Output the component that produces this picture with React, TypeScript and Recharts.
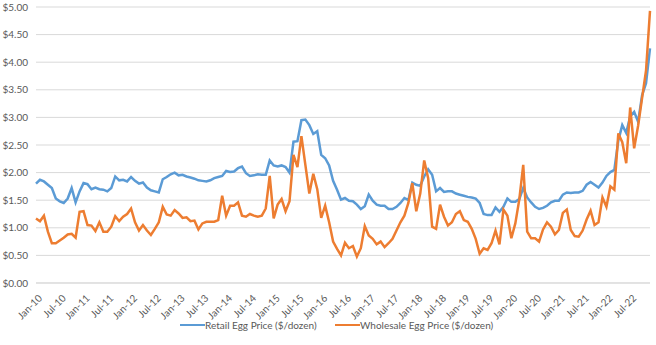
import { LineChart, Line, XAxis, YAxis, CartesianGrid, Legend } from 'recharts'

const monthNames = ['Jan', 'Feb', 'Mar', 'Apr', 'May', 'Jun', 'Jul', 'Aug', 'Sep', 'Oct', 'Nov', 'Dec']
const years = ['10', '11', '12', '13', '14', '15', '16', '17', '18', '19', '20', '21', '22']

// $/dozen, one row per year
const retail = [
  1.80, 1.87, 1.84, 1.78, 1.72, 1.53, 1.48, 1.45, 1.53, 1.72, 1.46, 1.66,
  1.81, 1.79, 1.70, 1.73, 1.70, 1.69, 1.66, 1.72, 1.93, 1.86, 1.87, 1.84,
  1.92, 1.85, 1.80, 1.82, 1.73, 1.68, 1.66, 1.64, 1.88, 1.92, 1.97, 2.00,
  1.95, 1.96, 1.93, 1.91, 1.89, 1.86, 1.85, 1.84, 1.86, 1.90, 1.92, 1.94,
  2.03, 2.01, 2.02, 2.08, 2.11, 1.99, 1.94, 1.95, 1.97, 1.96, 1.96, 2.22,
  2.13, 2.11, 2.13, 2.10, 2.00, 2.56, 2.57, 2.95, 2.96, 2.86, 2.70, 2.75,
  2.32, 2.26, 2.13, 1.85, 1.69, 1.51, 1.54, 1.49, 1.48, 1.42, 1.34, 1.39,
  1.60, 1.49, 1.42, 1.40, 1.40, 1.34, 1.34, 1.38, 1.45, 1.54, 1.50, 1.82,
  1.78, 1.76, 1.93, 2.06, 1.96, 1.66, 1.72, 1.65, 1.66, 1.66, 1.62, 1.60,
  1.58, 1.56, 1.55, 1.53, 1.45, 1.25, 1.23, 1.23, 1.37, 1.29, 1.38, 1.53,
  1.47, 1.47, 1.52, 1.72, 1.55, 1.46, 1.38, 1.34, 1.36, 1.40, 1.46, 1.49,
  1.49, 1.60, 1.64, 1.63, 1.64, 1.64, 1.67, 1.78, 1.83, 1.78, 1.73, 1.82,
  1.94, 2.01, 2.05, 2.58, 2.86, 2.72, 3.02, 3.10, 2.92, 3.40, 3.62, 4.25,
]

const wholesale = [
  1.17, 1.12, 1.22, 0.93, 0.72, 0.72, 0.77, 0.82, 0.88, 0.89, 0.82, 1.29,
  1.30, 1.05, 1.04, 0.94, 1.10, 0.93, 0.93, 1.02, 1.21, 1.12, 1.20, 1.25,
  1.35, 1.10, 0.95, 1.05, 0.95, 0.87, 0.98, 1.10, 1.38, 1.24, 1.22, 1.32,
  1.26, 1.18, 1.19, 1.12, 1.13, 0.97, 1.08, 1.11, 1.11, 1.11, 1.14, 1.58,
  1.22, 1.40, 1.40, 1.46, 1.22, 1.20, 1.25, 1.22, 1.20, 1.22, 1.35, 1.94,
  1.17, 1.42, 1.52, 1.30, 1.48, 2.32, 2.10, 2.66, 2.14, 1.62, 1.98, 1.70,
  1.18, 1.40, 1.10, 0.75, 0.62, 0.50, 0.73, 0.63, 0.67, 0.48, 0.63, 1.03,
  0.86, 0.80, 0.70, 0.75, 0.65, 0.72, 0.80, 0.95, 1.10, 1.22, 1.45, 1.81,
  1.30, 1.62, 2.22, 1.90, 1.02, 0.98, 1.42, 1.20, 1.04, 1.10, 1.25, 1.30,
  1.14, 1.11, 0.98, 0.80, 0.53, 0.63, 0.60, 0.72, 0.95, 0.70, 1.33, 1.22,
  0.81, 1.08, 1.51, 2.14, 0.93, 0.81, 0.81, 0.75, 0.97, 1.10, 1.02, 0.88,
  0.96, 1.27, 1.33, 0.96, 0.85, 0.84, 0.95, 1.15, 1.31, 1.05, 1.10, 1.55,
  1.38, 1.75, 1.69, 2.71, 2.55, 2.17, 3.18, 2.44, 2.85, 3.35, 3.85, 4.93,
]

const yTicks = [0, 0.5, 1, 1.5, 2, 2.5, 3, 3.5, 4, 4.5, 5]

const months = years.flatMap(y => monthNames.map(m => `${m}-${y}`))
const data = months.map((month, i) => ({ month, retail: retail[i], wholesale: wholesale[i] }))

const FONT = 'Lato, "Open Sans", sans-serif'
const TEXT = '#595959'
const BLUE = '#5B9BD5'
const ORANGE = '#ED7D31'

function MonthTick({ x, y, payload }: any) {
  return (
    <g transform={`translate(${x + 4},${y + 5})`}>
      <text x={0} y={0} dy={4} textAnchor="end" transform="rotate(-45)"
        fill={TEXT} fontSize={10} fontFamily={FONT}>{payload.value}</text>
    </g>
  )
}

function LegendBox() {
  const items = [
    { label: 'Retail Egg Price ($/dozen)', color: BLUE, left: 180 },
    { label: 'Wholesale Egg Price ($/dozen)', color: ORANGE, left: 335 },
  ]
  return (
    <div style={{ position: 'relative', width: 656, height: 20, fontFamily: FONT, fontSize: 10, color: TEXT }}>
      {items.map(it => (
        <div key={it.label} style={{ position: 'absolute', left: it.left, top: 0, height: 20, display: 'flex', alignItems: 'center', whiteSpace: 'nowrap' }}>
          <span style={{ display: 'inline-block', width: 25, height: 2.5, background: it.color }} />
          <span>{it.label}</span>
        </div>
      ))}
    </div>
  )
}

export default function App() {
  return (
    <div style={{ position: 'absolute', left: 0, top: 0, width: 656, height: 345, background: '#fff' }}>
      <LineChart width={656} height={345} data={data} margin={{ top: 7, right: 6, left: 0, bottom: 10 }}>
        <CartesianGrid vertical={false} stroke="#d9d9d9" />
        <XAxis dataKey="month" interval={5} tickLine={false} axisLine={{ stroke: '#d9d9d9' }}
          height={32} tick={<MonthTick />} />
        <YAxis domain={[0, 5]} ticks={yTicks} width={36} axisLine={false} tickLine={false}
          tickSize={0} tickMargin={8} tickFormatter={v => `$${Number(v).toFixed(2)}`}
          tick={{ fontSize: 10, fill: TEXT, fontFamily: FONT }} />
        <Legend verticalAlign="bottom" content={<LegendBox />} wrapperStyle={{ left: 0, width: 656, height: 20 }} />
        <Line type="linear" dataKey="retail" name="Retail Egg Price ($/dozen)" stroke={BLUE} strokeWidth={2.5}
          dot={false} isAnimationActive={false} />
        <Line type="linear" dataKey="wholesale" name="Wholesale Egg Price ($/dozen)" stroke={ORANGE} strokeWidth={2.5}
          dot={false} isAnimationActive={false} />
      </LineChart>
    </div>
  )
}
